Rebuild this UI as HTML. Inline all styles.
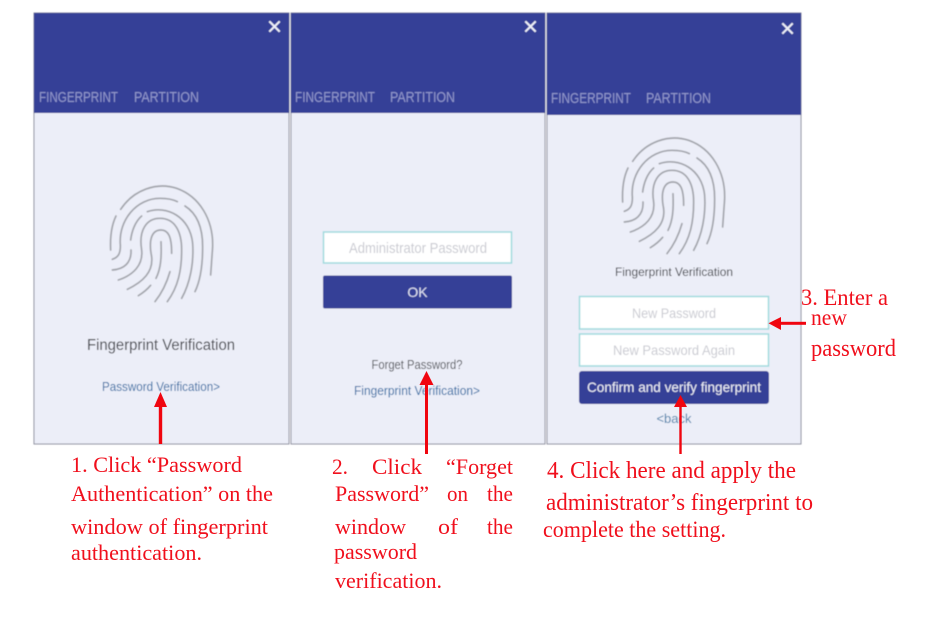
<!DOCTYPE html>
<html><head><meta charset="utf-8"><style>
html,body{margin:0;padding:0;background:#fff}
svg{display:block}
.ui{font-family:"Liberation Sans",sans-serif}
.r{font-family:"Liberation Serif",serif;fill:#f00f1c;font-size:22.500px}
</style></head><body>
<svg width="929" height="621" viewBox="0 0 929 621" xmlns="http://www.w3.org/2000/svg">
<defs>
<filter id="b" x="-5%" y="-5%" width="110%" height="110%"><feGaussianBlur stdDeviation="0.4"/></filter>
<g id="fp" fill="none" stroke="#a2a4ab" stroke-width="5" stroke-linecap="round" transform="translate(80,170) scale(.3333)">
<path d="M122 118C160 60 230 35 290 55C360 80 400 150 398 230L392 315"/>
<path d="M108 138C95 165 90 200 92 240"/>
<path d="M97 268C115 262 122 250 121 225C115 150 170 85 240 85C260 85 278 88 292 95"/>
<path d="M315 108C350 130 368 170 368 230C368 280 362 330 345 365"/>
<path d="M97 300C130 298 155 280 153 240"/>
<path d="M152 210C155 185 165 155 185 138"/>
<path d="M202 125C260 105 330 140 338 220C342 280 330 340 305 385"/>
<path d="M115 330C160 315 190 285 185 240C175 180 200 145 240 145C285 145 305 185 305 240C305 300 295 350 262 395"/>
<path d="M142 358C190 335 220 305 215 260C205 210 215 180 243 180C265 180 275 200 275 250"/>
<path d="M243 215C245 260 243 295 228 325"/>
<path d="M270 305C260 340 245 370 225 395"/>
<path d="M175 377C190 368 202 358 212 346"/>
</g>
</defs>
<g filter="url(#b)">
<rect x="34" y="13" width="255" height="431" fill="#eceef8" stroke="#8f91a0" stroke-width="1"/>
<rect x="291" y="13" width="254" height="431" fill="#eceef8" stroke="#8f91a0" stroke-width="1"/>
<rect x="547" y="13" width="254" height="431" fill="#eceef8" stroke="#8f91a0" stroke-width="1"/>
<rect x="34" y="13" width="255" height="100" fill="#353f97"/>
<rect x="291" y="13" width="254" height="100" fill="#353f97"/>
<rect x="547" y="13" width="254" height="102" fill="#353f97"/>
<g stroke="#eef0f8" stroke-width="2" stroke-linecap="square">
<path d="M270 22L279 31M279 22L270 31"/>
<path d="M526 22L535 31M535 22L526 31"/>
<path d="M783 24L792 33M792 24L783 33"/>
</g>
<g class="ui" fill="#9298cc" font-size="15">
<text x="39" y="102" textLength="79" lengthAdjust="spacingAndGlyphs">FINGERPRINT</text>
<text x="134" y="102" textLength="65" lengthAdjust="spacingAndGlyphs">PARTITION</text>
<text x="295" y="102" textLength="80" lengthAdjust="spacingAndGlyphs">FINGERPRINT</text>
<text x="390" y="102" textLength="65" lengthAdjust="spacingAndGlyphs">PARTITION</text>
<text x="551" y="103" textLength="80" lengthAdjust="spacingAndGlyphs">FINGERPRINT</text>
<text x="646" y="103" textLength="65" lengthAdjust="spacingAndGlyphs">PARTITION</text>
</g>
<use href="#fp"/>
<use href="#fp" transform="translate(512,-48)"/>
<g class="ui" text-anchor="middle">
<text x="161" y="350" font-size="15.500" fill="#404248" textLength="148" lengthAdjust="spacingAndGlyphs">Fingerprint Verification</text>
<text x="161" y="391" font-size="13" fill="#2f6ca4" textLength="118" lengthAdjust="spacingAndGlyphs">Password Verification&gt;</text>
<text x="417" y="369" font-size="13" fill="#505258" textLength="91" lengthAdjust="spacingAndGlyphs">Forget Password?</text>
<text x="417" y="395" font-size="13" fill="#2f6ca4" textLength="126" lengthAdjust="spacingAndGlyphs">Fingerprint Verification&gt;</text>
<text x="674" y="276" font-size="12" fill="#404248" textLength="118" lengthAdjust="spacingAndGlyphs">Fingerprint Verification</text>
<text x="674" y="423" font-size="13" fill="#4a80aa">&lt;back</text>
</g>
<g fill="#fff" stroke="#9fdadd" stroke-width="1.500">
<rect x="323.500" y="232" width="188" height="31"/>
<rect x="579.500" y="296.500" width="189" height="32.500"/>
<rect x="579.500" y="334" width="189" height="32"/>
</g>
<rect x="323" y="275.500" width="189" height="33" rx="2" fill="#353f97"/>
<rect x="579" y="371" width="190" height="33" rx="3" fill="#353f97"/>
<g class="ui" text-anchor="middle">
<text x="418" y="253" font-size="15" fill="#cacbd2" textLength="138" lengthAdjust="spacingAndGlyphs">Administrator Password</text>
<text x="417.500" y="297" font-size="14" fill="#dfe2f2">OK</text>
<text x="674" y="318" font-size="14" fill="#cacbd2" textLength="84" lengthAdjust="spacingAndGlyphs">New Password</text>
<text x="674" y="355" font-size="14" fill="#cacbd2" textLength="122" lengthAdjust="spacingAndGlyphs">New Password Again</text>
<text x="674" y="392" font-size="14" fill="#eef0f8" textLength="174" lengthAdjust="spacingAndGlyphs">Confirm and verify fingerprint</text>
</g>
</g>
<g fill="#f0050f" stroke="none">
<rect x="158.800" y="404" width="3.400" height="40"/><path d="M160.500 392L167 407H154Z"/>
<rect x="425" y="382" width="3" height="72"/><path d="M426.500 371L433.500 385H419.500Z"/>
<rect x="679.300" y="405" width="2.400" height="49"/><path d="M680.500 395L687 407H674Z"/>
<rect x="779" y="321.800" width="27" height="3"/><path d="M768.500 323.300L781 317V330Z"/>
</g>
<g class="r" lengthAdjust="spacingAndGlyphs">
<text x="71" y="472" textLength="171" lengthAdjust="spacingAndGlyphs">1. Click “Password</text>
<text x="71" y="501" textLength="202" lengthAdjust="spacingAndGlyphs">Authentication” on the</text>
<text x="71" y="534" textLength="197" lengthAdjust="spacingAndGlyphs">window of fingerprint</text>
<text x="71" y="560" textLength="131" lengthAdjust="spacingAndGlyphs">authentication.</text>
<text x="332" y="474" textLength="16" lengthAdjust="spacingAndGlyphs">2.</text><text x="372" y="474" textLength="50" lengthAdjust="spacingAndGlyphs">Click</text><text x="446" y="474" textLength="67" lengthAdjust="spacingAndGlyphs">“Forget</text>
<text x="335" y="501" textLength="94" lengthAdjust="spacingAndGlyphs">Password”</text><text x="447" y="501" textLength="21" lengthAdjust="spacingAndGlyphs">on</text><text x="487" y="501" textLength="26" lengthAdjust="spacingAndGlyphs">the</text>
<text x="335" y="534" textLength="71" lengthAdjust="spacingAndGlyphs">window</text><text x="438" y="534" textLength="20" lengthAdjust="spacingAndGlyphs">of</text><text x="487" y="534" textLength="26" lengthAdjust="spacingAndGlyphs">the</text>
<text x="334" y="559" textLength="83" lengthAdjust="spacingAndGlyphs">password</text>
<text x="335" y="588" textLength="107" lengthAdjust="spacingAndGlyphs">verification.</text>
<text x="547" y="478" font-size="24" textLength="249" lengthAdjust="spacingAndGlyphs">4. Click here and apply the</text>
<text x="546" y="510" font-size="24" textLength="267" lengthAdjust="spacingAndGlyphs">administrator’s fingerprint to</text>
<text x="543" y="537" font-size="23" textLength="183" lengthAdjust="spacingAndGlyphs">complete the setting.</text>
<text x="801" y="305" font-size="23" textLength="87" lengthAdjust="spacingAndGlyphs">3. Enter a</text>
<text x="811" y="325" font-size="23" textLength="36" lengthAdjust="spacingAndGlyphs">new</text>
<text x="811" y="356" font-size="24" textLength="85" lengthAdjust="spacingAndGlyphs">password</text>
</g>
</svg>
</body></html>
